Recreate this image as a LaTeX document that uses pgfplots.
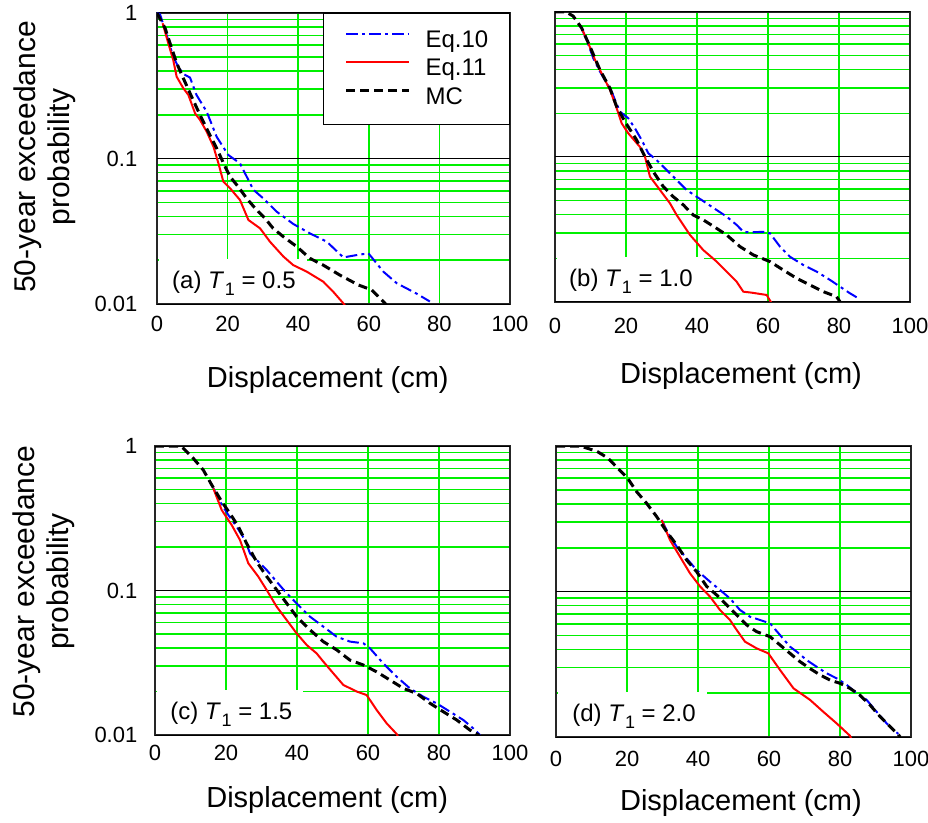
\documentclass[border=0pt]{standalone}
\usepackage{fontspec}
\setmainfont{Liberation Sans}
\usepackage{pgfplots}
\pgfplotsset{compat=1.18}
\pgfkeys{/pgf/number format/assume math mode=true}
\definecolor{gridgreen}{HTML}{00F000}
\definecolor{eqten}{HTML}{0000FF}
\definecolor{eqeleven}{HTML}{FF0000}
\newcommand{\Tone}{\textit{T}\kern0.3pt\raisebox{-0.32em}{\fontsize{9}{9}\selectfont 1}}
\tikzset{lbl/.style={anchor=west, inner sep=0pt, font=\fontsize{12}{14}\selectfont}}
\pgfplotsset{
  panel/.style={
    scale only axis,
    xmin=0, xmax=100, ymin=0.01, ymax=1,
    xtick={0,20,40,60,80,100},
    ytick={0.02,0.03,0.04,0.05,0.06,0.07,0.08,0.09,0.2,0.3,0.4,0.5,0.6,0.7,0.8,0.9},
    yticklabels={},
    minor ytick={}, minor xtick={},
    extra y ticks={0.01,0.1,1},
    extra y tick style={grid style={black, line width=0.5pt}},
    xmajorgrids, ymajorgrids,
    grid style={gridgreen, line width=0.8pt},
    major tick length=0pt, minor tick length=0pt,
    axis line style={black!85, line width=0.7pt},
    tick label style={font=\fontsize{11}{13}\selectfont},
    label style={font=\fontsize{14.5}{17}\selectfont},
    xlabel={Displacement (cm)},
    ylabel style={align=center, anchor=center, font=\fontsize{15}{17}\selectfont},
  },
  eq10/.style={eqten, line width=1pt, dash pattern=on 5.8pt off 2.1pt on 1.5pt off 2.1pt},
  eq11/.style={eqeleven, line width=1pt},
  mc/.style={black, line width=1.5pt, dash pattern=on 4.5pt off 2.5pt},
}

\begin{document}
\begin{tikzpicture}
\useasboundingbox (0pt,0pt) rectangle (464pt,-411.5pt);

% (a)
\begin{axis}[ymode=log, panel,
  at={(78.5pt,-152pt)}, anchor=south west, width=176.5pt, height=145.5pt,
  xticklabel style={yshift=-2.6pt},
  extra y tick labels={0.01,0.1,1},
  extra y tick style={yticklabel style={xshift=-6.3pt}},
  xlabel style={at={(axis description cs:0.484,-0.261)}, anchor=center},
  ylabel={50-year exceedance\\probability},
  ylabel style={at={(axis description cs:-0.317,0.505)}},
  legend style={at={(1,1)}, anchor=north east, draw=black, line width=0.7pt, fill=white,
    inner xsep=10.5pt, inner ysep=7.75pt, row sep=2.75pt, column sep=7.5pt,
    font=\fontsize{12}{14}\selectfont,
    nodes={inner sep=0pt, text height=9pt, text depth=2.5pt}},
  legend cell align=left,
  legend image code/.code={\draw[#1] (0pt,3.5pt) -- (31.5pt,3.5pt);},
]
\fill[white] (axis cs:0.5,0.0101) rectangle (axis cs:42.5,0.0205);
\addplot[eq10] coordinates {(0,1) (0.85,0.98) (2.3,0.764) (4.6,0.501) (6.0,0.428) (7.46,0.381) (9.35,0.36) (11.2,0.273) (14.07,0.21) (16.9,0.141) (20.2,0.1057) (23.5,0.0927) (25.9,0.0711) (27.3,0.061) (30.1,0.0532) (33.9,0.0431) (38.6,0.0355) (43.3,0.0306) (48.1,0.0268) (52.8,0.0209) (56.6,0.0217) (59.9,0.0223) (64.1,0.0167) (67.9,0.0139) (73.5,0.0118) (77.3,0.0104)};
\addlegendentry{Eq.10}
\addplot[eq11] coordinates {(1.6,0.85) (3.2,0.619) (4.6,0.475) (5.57,0.365) (7.46,0.304) (8.9,0.273) (10.8,0.204) (12.2,0.184) (14.07,0.153) (16,0.1206) (17.4,0.0927) (18.8,0.0693) (20.7,0.0624) (23.5,0.0519) (25.9,0.0378) (29.2,0.0331) (32,0.0268) (35.8,0.0212) (38.6,0.0185) (42.4,0.0167) (47.1,0.01424) (49.9,0.01216) (52.8,0.0101) (53.2,0.0098)};
\addlegendentry{Eq.11}
\addplot[mc] coordinates {(0,1) (2.3,0.785) (3.7,0.619) (5.6,0.451) (7.46,0.356) (9.8,0.266) (12.2,0.199) (14.5,0.153) (16.9,0.1175) (19.3,0.0879) (20.7,0.075) (23,0.064) (25.4,0.0532) (27.8,0.0455) (30.6,0.0388) (32.9,0.0331) (35.8,0.029) (39.6,0.0248) (43.3,0.0206) (47.1,0.0185) (51.8,0.0158) (57.1,0.0135) (60.8,0.0125) (62.7,0.01123) (64.6,0.0101) (65.5,0.0095)};
\addlegendentry{MC}
\node[lbl] at (axis cs:4.2,0.0139) {(a) \Tone{} = 0.5};
\end{axis}

% (b)
\begin{axis}[ymode=log, panel,
  at={(277.5pt,-151pt)}, anchor=south west, width=177.5pt, height=145pt,
  xticklabel style={yshift=-4.3pt}, extra y tick labels={},
  xlabel style={at={(axis description cs:0.524,-0.255)}, anchor=center},
]
\fill[white] (axis cs:0.5,0.0101) rectangle (axis cs:42,0.0205);
\addplot[eq10] coordinates {(7.51,0.772) (8.92,0.641) (10.8,0.479) (12.68,0.388) (14.55,0.322) (15.96,0.282) (16.9,0.247) (18.31,0.2055) (20.66,0.1848) (22.53,0.1576) (24.41,0.131) (26.29,0.106) (28.6,0.0954) (31.46,0.0813) (34.27,0.0694) (37.09,0.0592) (39.9,0.0532) (42.72,0.0479) (45.54,0.0431) (48.35,0.0388) (51.17,0.034) (53.05,0.0305) (54.93,0.0302) (58.68,0.0305) (60.56,0.0298) (63.38,0.0241) (66.2,0.0205) (69.95,0.018) (73.71,0.0162) (77.46,0.0142) (80.28,0.01276) (83.1,0.01148) (85.45,0.0106)};
\addplot[eq11] coordinates {(7.51,0.772) (9.39,0.608) (11.27,0.467) (13.61,0.358) (15.49,0.29) (16.9,0.2345) (18.78,0.1707) (20.66,0.1456) (23.94,0.1173) (25.35,0.1005) (26.76,0.0732) (29.58,0.0592) (32.39,0.0479) (34.27,0.0398) (38.03,0.029) (41.78,0.0228) (45.54,0.019) (48.35,0.0162) (51.17,0.0138) (53.05,0.01178) (55.4,0.0116) (59.62,0.01118) (61.03,0.0098)};
\addplot[mc] coordinates {(0,1) (3.1,1) (5.1,0.938) (7.5,0.776) (9.86,0.577) (12.68,0.398) (15.49,0.2976) (17.37,0.2224) (19.72,0.1752) (23.0,0.131) (25.35,0.1005) (27.7,0.0792) (30.52,0.0624) (33.33,0.0532) (36.15,0.0467) (38.97,0.0398) (41.78,0.0368) (45.54,0.0322) (48.35,0.029) (52.11,0.0241) (55.87,0.0211) (60.56,0.019) (64.32,0.0166) (68.08,0.01456) (71.83,0.0131) (75.6,0.01178) (79.3,0.01088) (80.28,0.01005) (80.6,0.0098)};
\node[lbl] at (axis cs:3.9,0.0139) {(b) \Tone{} = 1.0};
\end{axis}

% (c)
\begin{axis}[ymode=log, panel,
  at={(77.5pt,-367.5pt)}, anchor=south west, width=177.5pt, height=144.5pt,
  xticklabel style={yshift=-1.3pt},
  extra y tick labels={0.01,0.1,1},
  extra y tick style={yticklabel style={xshift=-5.3pt}},
  xlabel style={at={(axis description cs:0.485,-0.225)}, anchor=center},
  ylabel={50-year exceedance\\probability},
  ylabel style={at={(axis description cs:-0.313,0.531)}},
]
\fill[white] (axis cs:0.5,0.0101) rectangle (axis cs:41.7,0.0205);
\addplot[eq10] coordinates {(16.43,0.509) (18.31,0.412) (20.66,0.333) (23.0,0.2765) (25.35,0.2236) (26.76,0.1808) (28.64,0.1626) (31.46,0.1386) (34.27,0.115) (37.09,0.0958) (39.9,0.0815) (43.66,0.0659) (47.42,0.0562) (51.17,0.0479) (54.93,0.0443) (58.7,0.0431) (60.56,0.0398) (64.3,0.0313) (68.08,0.0253) (71.83,0.021) (75.6,0.0184) (79.34,0.01656) (83.1,0.0145) (86.85,0.0127) (89.67,0.0111) (91.55,0.01)};
\addplot[eq11] coordinates {(16.43,0.509) (18.78,0.361) (21.6,0.284) (23.94,0.2236) (26.29,0.1542) (29.1,0.1247) (31.46,0.1008) (34.27,0.0773) (37.09,0.0625) (39.9,0.0505) (42.72,0.042) (45.54,0.0367) (47.42,0.0322) (50.24,0.0267) (53.05,0.0222) (56.81,0.02) (59.62,0.0189) (62.44,0.0149) (65.26,0.01204) (68.08,0.01016) (68.4,0.0098)};
\addplot[mc] coordinates {(0,1) (7.04,1) (8.0,0.963) (10.8,0.821) (13.6,0.682) (16.0,0.537) (18.8,0.412) (21.1,0.342) (23.5,0.2765) (25.8,0.212) (28.6,0.1583) (31.5,0.1247) (34.3,0.1008) (37.1,0.0815) (39.9,0.0659) (43.7,0.0533) (47.4,0.0443) (51.2,0.0388) (54.9,0.033) (58.7,0.0305) (62.4,0.0274) (66.2,0.024) (70.0,0.021) (73.7,0.0194) (77.5,0.01656) (81.2,0.0145) (85.0,0.0127) (88.7,0.01083) (91.1,0.01) (91.5,0.0097)};
\node[lbl] at (axis cs:4.2,0.0139) {(c) \Tone{} = 1.5};
\end{axis}

% (d)
\begin{axis}[ymode=log, panel,
  at={(278pt,-368.5pt)}, anchor=south west, width=177.5pt, height=145.5pt,
  xticklabel style={yshift=-3.6pt}, extra y tick labels={},
  xlabel style={at={(axis description cs:0.521,-0.227)}, anchor=center},
]
\fill[white] (axis cs:0.5,0.0101) rectangle (axis cs:42.5,0.0205);
\addplot[eq10] coordinates {(29.76,0.31) (32.1,0.238) (34.0,0.2033) (36.8,0.169) (39.6,0.1405) (43.38,0.1168) (46.2,0.1024) (49.0,0.0897) (51.83,0.0746) (54.65,0.0671) (57.46,0.0637) (60.3,0.0604) (63.1,0.0502) (65.9,0.0418) (67.8,0.0386) (70.6,0.0338) (73.4,0.0304) (76.25,0.0274) (79.06,0.0253) (81.9,0.0228) (84.7,0.02) (87.5,0.018) (90.33,0.0149) (93.15,0.0124) (96.43,0.0105)};
\addplot[eq11] coordinates {(29.76,0.31) (32.1,0.226) (34.93,0.1735) (37.75,0.1333) (40.56,0.1085) (43.38,0.0922) (46.2,0.0746) (49.0,0.0637) (50.9,0.0544) (53.24,0.0452) (56.5,0.0407) (59.8,0.0376) (63.1,0.0289) (66.9,0.0216) (71.55,0.018) (75.3,0.0149) (79.06,0.0124) (82.8,0.0102) (83.1,0.0098)};
\addplot[mc] coordinates {(0,1) (6.8,1) (11.5,0.92) (14.5,0.83) (17.5,0.7) (20.2,0.6) (22.7,0.4855) (25.54,0.4036) (28.36,0.327) (31.17,0.2578) (34.0,0.2088) (36.8,0.1646) (39.6,0.1369) (42.44,0.1085) (45.26,0.0946) (48.1,0.0807) (50.9,0.069) (53.7,0.0589) (56.5,0.053) (60.3,0.0489) (63.1,0.0429) (65.9,0.0376) (68.7,0.033) (71.5,0.0296) (74.4,0.0267) (77.2,0.0246) (80.0,0.0234) (82.8,0.0216) (85.6,0.0194) (88.45,0.0166) (91.3,0.0138) (94.1,0.01178) (96.0,0.0106) (97,0.01)};
\node[lbl] at (axis cs:4.5,0.0139) {(d) \Tone{} = 2.0};
\end{axis}
\end{tikzpicture}
\end{document}
